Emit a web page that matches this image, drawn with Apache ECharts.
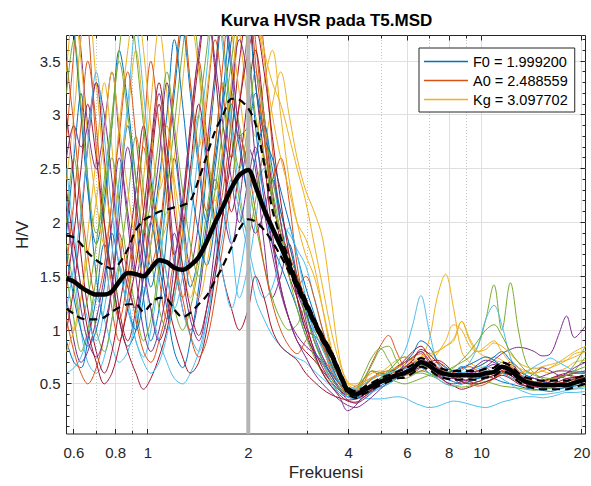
<!DOCTYPE html>
<html>
<head>
<meta charset="utf-8">
<script src="https://cdn.jsdelivr.net/npm/echarts@6/dist/echarts.min.js"></script>
<style>
  html, body { margin: 0; padding: 0; background: #ffffff; }
  #chart { width: 591px; height: 486px; }
</style>
</head>
<body>
<div id="chart"></div>
<script>
// Frequency samples (Hz) shared by every H/V curve
const freq = [0.57, 0.6, 0.63, 0.66, 0.7, 0.74, 0.78, 0.82, 0.87, 0.92, 0.97, 1.02, 1.08, 1.14, 1.2, 1.27, 1.34, 1.42, 1.5, 1.59, 1.68, 1.78, 1.88, 1.9992,
  2.1, 2.23, 2.36, 2.5, 2.65, 2.8, 2.97, 3.15, 3.34, 3.54, 3.75, 3.97,
  4.2, 4.45, 4.7, 4.97, 5.26, 5.56, 5.88, 6.22, 6.58, 6.96, 7.36, 7.8, 8.25, 8.72, 9.22, 9.75, 10.3, 10.9, 11.5, 12.2, 12.9, 13.6, 14.4, 15.2, 16.1, 17.0, 18.0, 19.0, 20.5];

// Average H/V curve and its +/- standard deviation bounds
const meanHV = [1.48, 1.45, 1.40, 1.36, 1.33, 1.33, 1.36, 1.45, 1.53, 1.52, 1.50, 1.57, 1.65, 1.63, 1.58, 1.56, 1.6, 1.68, 1.82, 2.0, 2.15, 2.32, 2.44, 2.488559,
  2.34, 2.12, 1.95, 1.78, 1.6, 1.42, 1.25, 1.08, 0.92, 0.78, 0.6, 0.44,
  0.4, 0.44, 0.48, 0.52, 0.55, 0.58, 0.6, 0.64, 0.70, 0.67, 0.62, 0.59, 0.58, 0.58, 0.58, 0.58, 0.6, 0.61, 0.66, 0.63, 0.56, 0.52, 0.5, 0.49, 0.49, 0.49, 0.49, 0.51, 0.54];
const upperHV = [1.88, 1.86, 1.8, 1.72, 1.65, 1.6, 1.57, 1.62, 1.75, 1.93, 2.02, 2.06, 2.1, 2.12, 2.14, 2.16, 2.2, 2.4, 2.62, 2.85, 3.0, 3.15, 3.14, 3.06,
  2.92, 2.55, 2.12, 1.86, 1.66, 1.46, 1.29, 1.11, 0.95, 0.81, 0.63, 0.47,
  0.43, 0.47, 0.51, 0.55, 0.58, 0.61, 0.64, 0.68, 0.74, 0.71, 0.66, 0.63, 0.62, 0.62, 0.62, 0.62, 0.64, 0.65, 0.7, 0.67, 0.6, 0.56, 0.54, 0.53, 0.53, 0.53, 0.53, 0.55, 0.58];
const lowerHV = [1.2, 1.15, 1.11, 1.1, 1.1, 1.12, 1.17, 1.21, 1.24, 1.24, 1.17, 1.24, 1.3, 1.29, 1.19, 1.12, 1.16, 1.24, 1.32, 1.46, 1.6, 1.77, 1.94, 2.03,
  2.01, 1.93, 1.82, 1.69, 1.54, 1.38, 1.21, 1.05, 0.89, 0.75, 0.57, 0.41,
  0.37, 0.41, 0.45, 0.49, 0.52, 0.55, 0.56, 0.6, 0.66, 0.63, 0.58, 0.55, 0.54, 0.54, 0.54, 0.54, 0.56, 0.57, 0.62, 0.59, 0.52, 0.48, 0.46, 0.45, 0.45, 0.45, 0.45, 0.47, 0.5];

// H/V ratio of each individual time window
const w01 = [1.9, 2.6, 3.2, 2.4, 1.5, 1.1, 1.4, 2.2, 2.9, 2.1, 1.3, 0.9, 1.2, 1.9, 2.6, 2.0, 1.4, 1.7, 2.5, 3.3, 3.9, 3.4, 2.8, 2.9,
  3.2, 2.8, 2.2, 1.9, 1.7, 1.3, 1.0, 0.95, 0.85, 0.7, 0.55, 0.42,
  0.4, 0.45, 0.5, 0.47, 0.5, 0.55, 0.6, 0.66, 0.72, 0.65, 0.58, 0.55, 0.6, 0.66, 0.6, 0.55, 0.58, 0.62, 0.7, 0.64, 0.55, 0.5, 0.48, 0.45, 0.46, 0.48, 0.5, 0.52, 0.55];
const w02 = [2.8, 3.6, 4.5, 3.9, 2.7, 1.8, 1.2, 0.9, 1.3, 2.0, 2.7, 2.2, 1.5, 1.1, 1.4, 2.1, 2.9, 3.5, 2.8, 2.0, 2.3, 3.0, 3.9, 4.3,
  3.7, 2.9, 2.4, 2.6, 2.2, 1.6, 1.2, 0.9, 0.75, 0.62, 0.5, 0.45,
  0.43, 0.52, 0.62, 0.58, 0.6, 0.66, 0.7, 0.74, 0.8, 0.7, 0.6, 0.58, 0.62, 0.6, 0.56, 0.6, 0.65, 0.6, 0.62, 0.68, 0.6, 0.52, 0.5, 0.52, 0.55, 0.52, 0.5, 0.53, 0.56];
const w03 = [1.2, 1.0, 1.3, 1.9, 2.6, 3.3, 2.7, 1.9, 1.4, 1.7, 2.4, 3.1, 3.8, 3.2, 2.3, 1.6, 1.3, 1.8, 2.6, 3.4, 4.2, 4.6, 3.8, 3.1,
  2.8, 3.3, 3.6, 3.0, 2.4, 2.0, 1.7, 1.5, 1.2, 0.85, 0.6, 0.5,
  0.5, 0.55, 0.6, 0.62, 0.58, 0.6, 0.65, 0.7, 0.75, 0.9, 1.3, 1.52, 1.2, 0.8, 0.7, 0.66, 0.7, 0.75, 0.72, 0.65, 0.6, 0.62, 0.65, 0.62, 0.6, 0.62, 0.65, 0.7, 0.72];
const w04 = [3.8, 4.2, 3.6, 2.9, 2.5, 2.9, 3.4, 2.8, 2.0, 1.5, 1.9, 2.6, 3.2, 2.5, 1.7, 1.2, 1.0, 1.3, 1.9, 2.4, 2.1, 1.8, 2.2, 2.7,
  2.5, 1.8, 1.3, 1.5, 1.8, 1.5, 1.1, 0.8, 0.6, 0.48, 0.38, 0.25,
  0.3, 0.4, 0.45, 0.52, 0.58, 0.62, 0.66, 0.7, 0.66, 0.6, 0.57, 0.6, 0.62, 0.6, 0.58, 0.62, 0.66, 0.72, 0.78, 0.82, 0.84, 0.83, 0.8, 0.76, 0.78, 0.95, 1.13, 0.93, 1.04];
const w05 = [1.5, 1.1, 0.8, 1.0, 1.5, 2.1, 2.6, 2.2, 1.6, 1.2, 0.9, 1.1, 1.6, 2.3, 2.9, 3.6, 4.1, 3.5, 2.7, 2.3, 2.7, 3.2, 2.9, 2.4,
  2.0, 1.6, 1.3, 1.1, 1.0, 1.05, 1.2, 1.1, 0.9, 0.7, 0.5, 0.42,
  0.45, 0.55, 0.62, 0.6, 0.55, 0.52, 0.5, 0.52, 0.55, 0.58, 0.6, 0.62, 0.66, 0.7, 0.75, 0.85, 1.1, 1.42, 1.0, 1.44, 1.0, 0.7, 0.6, 0.55, 0.5, 0.48, 0.47, 0.46, 0.48];
const w06 = [2.2, 1.6, 1.0, 0.7, 0.6, 0.75, 1.1, 1.6, 1.3, 0.9, 0.75, 1.0, 1.5, 2.1, 1.7, 1.2, 0.95, 0.8, 1.1, 1.6, 2.2, 1.8, 1.3, 1.6,
  2.0, 2.5, 2.4, 2.0, 1.9, 1.75, 1.6, 1.3, 1.0, 0.75, 0.55, 0.45,
  0.42, 0.45, 0.5, 0.55, 0.62, 0.7, 0.8, 1.05, 1.32, 1.0, 0.7, 0.6, 0.58, 0.62, 0.7, 0.85, 1.1, 1.23, 1.05, 0.75, 0.6, 0.55, 0.5, 0.48, 0.46, 0.45, 0.47, 0.48, 0.5];
const w07 = [1.0, 1.4, 2.0, 2.7, 3.3, 2.6, 1.8, 1.2, 0.9, 1.2, 1.8, 2.5, 3.1, 2.4, 1.7, 2.1, 2.8, 3.5, 4.0, 3.4, 2.6, 2.1, 2.5, 3.2,
  3.6, 3.0, 2.3, 1.8, 1.5, 1.3, 1.05, 0.82, 0.65, 0.52, 0.42, 0.38,
  0.4, 0.45, 0.5, 0.55, 0.6, 0.65, 0.72, 0.8, 0.85, 0.75, 0.65, 0.6, 0.55, 0.5, 0.55, 0.58, 0.6, 0.6, 0.65, 0.7, 0.62, 0.58, 0.55, 0.53, 0.55, 0.58, 0.6, 0.62, 0.6];
const w08 = [0.9, 0.7, 0.65, 0.9, 1.3, 1.8, 1.5, 1.1, 0.85, 1.0, 1.5, 2.0, 1.6, 1.2, 0.8, 0.65, 0.9, 1.4, 2.0, 2.6, 3.1, 3.7, 4.1, 3.6,
  2.9, 2.2, 1.8, 1.6, 1.4, 1.2, 0.95, 0.8, 0.7, 0.58, 0.47, 0.4,
  0.38, 0.4, 0.43, 0.48, 0.52, 0.55, 0.6, 0.64, 0.7, 0.66, 0.6, 0.55, 0.52, 0.5, 0.52, 0.55, 0.58, 0.55, 0.52, 0.5, 0.48, 0.46, 0.45, 0.44, 0.43, 0.45, 0.47, 0.48, 0.5];
const w09 = [1.6, 2.2, 2.9, 3.5, 2.9, 2.0, 1.4, 1.1, 1.5, 2.1, 2.8, 3.5, 2.9, 2.2, 1.6, 1.3, 1.7, 2.4, 3.1, 3.7, 3.2, 2.6, 3.1, 3.8,
  4.2, 3.6, 2.7, 2.0, 1.6, 1.4, 1.5, 1.3, 1.0, 0.75, 0.55, 0.45,
  0.44, 0.55, 0.7, 0.85, 0.95, 0.8, 0.65, 0.6, 0.62, 0.65, 0.7, 0.66, 0.6, 0.58, 0.6, 0.62, 0.58, 0.55, 0.6, 0.65, 0.6, 0.55, 0.52, 0.5, 0.52, 0.55, 0.58, 0.6, 0.62];
const w10 = [2.4, 3.0, 3.7, 4.0, 3.3, 2.5, 2.0, 2.4, 3.0, 3.6, 3.0, 2.3, 1.8, 2.0, 2.6, 3.3, 3.9, 3.4, 2.7, 2.2, 2.6, 3.3, 3.9, 4.4,
  4.0, 3.5, 3.0, 2.6, 2.3, 2.0, 1.85, 1.6, 1.2, 0.8, 0.55, 0.45,
  0.45, 0.5, 0.55, 0.6, 0.66, 0.72, 0.75, 0.7, 0.66, 0.7, 0.78, 0.9, 1.05, 1.0, 0.85, 0.8, 0.82, 0.88, 0.85, 0.78, 0.7, 0.66, 0.64, 0.66, 0.68, 0.7, 0.72, 0.75, 0.8];
const w11 = [1.3, 0.9, 0.7, 0.8, 1.1, 1.5, 2.0, 2.6, 2.1, 1.5, 1.0, 0.8, 1.0, 1.4, 1.9, 1.5, 1.1, 0.9, 1.2, 1.8, 2.5, 3.2, 3.7, 3.3,
  2.6, 2.1, 1.7, 1.35, 1.1, 0.95, 0.85, 0.78, 0.68, 0.55, 0.45, 0.38,
  0.36, 0.4, 0.45, 0.5, 0.55, 0.6, 0.64, 0.68, 0.72, 0.7, 0.65, 0.6, 0.58, 0.57, 0.6, 0.62, 0.65, 0.68, 0.62, 0.58, 0.55, 0.55, 0.6, 0.65, 0.62, 0.58, 0.55, 0.56, 0.58];
const w12 = [2.0, 2.6, 2.1, 1.5, 1.0, 0.8, 1.1, 1.6, 2.2, 2.8, 2.3, 1.7, 1.2, 1.0, 1.3, 1.8, 2.4, 3.0, 3.6, 4.2, 3.7, 3.0, 2.5, 2.9,
  3.4, 3.0, 2.4, 2.1, 1.8, 1.5, 1.25, 1.0, 0.82, 0.65, 0.5, 0.42,
  0.45, 0.6, 0.75, 0.83, 0.72, 0.6, 0.55, 0.58, 0.62, 0.6, 0.56, 0.55, 0.58, 0.6, 0.56, 0.52, 0.55, 0.58, 0.6, 0.62, 0.58, 0.55, 0.52, 0.5, 0.52, 0.55, 0.6, 0.68, 0.85];
const w13 = [0.6, 0.65, 0.75, 0.95, 1.3, 1.1, 0.85, 0.7, 0.8, 1.1, 1.4, 1.2, 0.9, 0.7, 0.55, 0.5, 0.6, 0.8, 1.1, 1.5, 1.9, 2.4, 2.1, 1.7,
  1.3, 1.1, 0.95, 0.85, 0.78, 0.74, 0.7, 0.62, 0.55, 0.48, 0.42, 0.38,
  0.38, 0.37, 0.36, 0.36, 0.37, 0.38, 0.37, 0.33, 0.3, 0.28, 0.29, 0.32, 0.34, 0.33, 0.31, 0.29, 0.28, 0.3, 0.33, 0.35, 0.37, 0.38, 0.38, 0.37, 0.38, 0.4, 0.42, 0.42, 0.43];
const w14 = [3.0, 2.4, 1.7, 1.2, 0.8, 0.6, 0.8, 1.2, 1.7, 2.3, 2.9, 2.4, 1.8, 1.3, 1.0, 0.75, 0.6, 0.7, 1.0, 1.5, 2.1, 2.8, 3.5, 4.0,
  3.3, 2.6, 1.9, 1.4, 1.1, 0.9, 0.8, 0.72, 0.62, 0.52, 0.44, 0.4,
  0.42, 0.48, 0.55, 0.6, 0.58, 0.55, 0.58, 0.65, 0.7, 0.68, 0.6, 0.52, 0.48, 0.45, 0.47, 0.5, 0.52, 0.55, 0.6, 0.58, 0.52, 0.48, 0.47, 0.48, 0.5, 0.52, 0.55, 0.56, 0.58];
const w15 = [4.4, 3.8, 3.0, 2.3, 1.8, 2.2, 2.9, 3.6, 3.1, 2.4, 1.8, 1.4, 1.8, 2.5, 3.2, 3.8, 3.2, 2.5, 2.0, 2.5, 3.2, 4.0, 4.5, 4.0,
  3.3, 2.8, 2.6, 2.3, 2.0, 1.7, 1.4, 1.15, 0.9, 0.68, 0.52, 0.44,
  0.42, 0.46, 0.5, 0.55, 0.6, 0.64, 0.7, 0.78, 0.9, 0.85, 0.72, 0.65, 0.62, 0.6, 0.63, 0.66, 0.7, 0.75, 0.8, 0.72, 0.65, 0.58, 0.55, 0.52, 0.5, 0.5, 0.52, 0.55, 0.58];
const w16 = [1.1, 0.8, 0.6, 0.5, 0.65, 0.95, 1.4, 1.9, 1.5, 1.1, 0.8, 0.7, 0.9, 1.2, 1.6, 1.3, 0.95, 0.75, 0.9, 1.3, 1.8, 2.3, 2.8, 2.5,
  2.1, 1.6, 1.25, 1.0, 0.85, 0.78, 0.9, 1.0, 0.85, 0.62, 0.5, 0.45,
  0.48, 0.52, 0.56, 0.6, 0.62, 0.6, 0.58, 0.6, 0.65, 0.7, 0.66, 0.6, 0.55, 0.52, 0.5, 0.48, 0.5, 0.55, 0.6, 0.56, 0.52, 0.5, 0.48, 0.47, 0.48, 0.5, 0.52, 0.55, 0.58];
const w17 = [3.4, 4.0, 3.5, 2.8, 2.2, 1.8, 2.2, 2.9, 3.6, 4.1, 3.6, 2.9, 2.3, 2.6, 3.3, 3.9, 3.3, 2.7, 3.2, 3.9, 4.4, 3.8, 3.2, 2.6,
  2.4, 2.7, 3.1, 3.4, 3.0, 2.6, 2.3, 2.1, 1.85, 1.3, 0.75, 0.5,
  0.46, 0.5, 0.54, 0.58, 0.6, 0.62, 0.65, 0.68, 0.72, 0.75, 0.8, 0.85, 0.9, 1.08, 0.92, 0.8, 0.75, 0.72, 0.7, 0.68, 0.62, 0.6, 0.6, 0.62, 0.65, 0.7, 0.75, 0.8, 0.85];
const w18 = [2.6, 2.9, 2.7, 2.9, 3.3, 3.0, 2.4, 1.8, 1.4, 1.2, 1.5, 2.0, 2.6, 3.3, 2.8, 2.1, 1.6, 2.0, 2.7, 3.4, 4.0, 3.5, 2.8, 2.2,
  1.9, 2.1, 2.4, 2.0, 1.6, 1.35, 1.15, 0.95, 0.75, 0.58, 0.45, 0.35,
  0.32, 0.36, 0.42, 0.5, 0.55, 0.6, 0.68, 0.75, 0.8, 0.72, 0.62, 0.56, 0.55, 0.58, 0.62, 0.68, 0.72, 0.7, 0.66, 0.62, 0.58, 0.55, 0.55, 0.57, 0.6, 0.62, 0.62, 0.6, 0.6];
const w19 = [1.8, 1.4, 1.1, 1.3, 1.8, 2.4, 3.0, 3.6, 4.2, 3.6, 2.9, 2.3, 1.9, 1.5, 1.2, 1.0, 1.2, 1.6, 2.1, 2.7, 3.3, 2.8, 2.2, 1.9,
  2.2, 2.6, 2.3, 1.9, 1.5, 1.2, 0.95, 0.75, 0.6, 0.5, 0.45, 0.43,
  0.45, 0.55, 0.68, 0.82, 0.85, 0.72, 0.62, 0.6, 0.6, 0.58, 0.55, 0.5, 0.48, 0.47, 0.48, 0.5, 0.52, 0.5, 0.48, 0.47, 0.46, 0.45, 0.44, 0.45, 0.46, 0.48, 0.52, 0.62, 0.75];
const w20 = [2.5, 1.9, 1.4, 1.1, 0.9, 1.2, 1.7, 2.4, 3.1, 3.8, 3.2, 2.5, 1.9, 1.5, 1.2, 1.5, 2.0, 2.7, 3.4, 4.1, 3.6, 2.9, 2.3, 1.8,
  1.5, 1.3, 1.4, 1.7, 1.95, 1.7, 1.3, 0.95, 0.7, 0.52, 0.42, 0.38,
  0.36, 0.38, 0.42, 0.46, 0.5, 0.55, 0.6, 0.62, 0.65, 0.6, 0.55, 0.5, 0.48, 0.5, 0.55, 0.6, 0.62, 0.6, 0.55, 0.5, 0.45, 0.42, 0.4, 0.4, 0.41, 0.42, 0.44, 0.45, 0.46];
const w21 = [1.4, 1.9, 2.5, 3.1, 2.6, 2.0, 1.5, 1.1, 0.8, 0.6, 0.45, 0.55, 0.75, 1.0, 1.4, 1.9, 2.5, 3.1, 2.6, 2.0, 1.5, 1.2, 1.0, 1.2,
  1.5, 1.3, 1.0, 0.85, 0.78, 0.72, 0.6, 0.52, 0.45, 0.4, 0.37, 0.35,
  0.36, 0.4, 0.45, 0.5, 0.55, 0.58, 0.6, 0.62, 0.66, 0.7, 0.72, 0.68, 0.6, 0.55, 0.52, 0.5, 0.52, 0.55, 0.58, 0.55, 0.5, 0.48, 0.5, 0.52, 0.55, 0.57, 0.58, 0.57, 0.56];
const w22 = [1.7, 1.3, 1.0, 0.85, 1.0, 1.4, 1.9, 1.6, 1.2, 1.0, 1.3, 1.8, 2.4, 3.0, 3.7, 3.1, 2.4, 1.9, 1.6, 2.0, 2.6, 3.1, 2.7, 2.3,
  2.6, 2.9, 2.5, 2.1, 1.8, 1.5, 1.2, 0.9, 0.72, 0.6, 0.5, 0.45,
  0.43, 0.45, 0.48, 0.52, 0.55, 0.58, 0.62, 0.66, 0.7, 0.68, 0.62, 0.6, 0.62, 0.65, 0.68, 0.72, 0.75, 0.72, 0.66, 0.6, 0.55, 0.52, 0.5, 0.5, 0.52, 0.55, 0.58, 0.6, 0.62];
const w23 = [3.5, 2.9, 2.2, 1.7, 1.3, 1.6, 2.2, 2.8, 3.4, 2.8, 2.1, 1.6, 1.9, 2.6, 3.3, 3.9, 3.3, 2.6, 2.1, 2.7, 3.5, 4.3, 4.8, 4.3,
  3.5, 2.8, 2.2, 1.9, 1.7, 1.5, 1.3, 1.1, 0.88, 0.66, 0.5, 0.42,
  0.42, 0.48, 0.55, 0.6, 0.62, 0.65, 0.7, 0.75, 0.78, 0.7, 0.62, 0.58, 0.6, 0.64, 0.66, 0.62, 0.58, 0.6, 0.64, 0.66, 0.6, 0.55, 0.52, 0.52, 0.54, 0.56, 0.58, 0.6, 0.6];
const w24 = [0.8, 1.0, 1.3, 1.7, 2.2, 2.8, 3.4, 2.9, 2.3, 1.8, 1.5, 1.8, 2.3, 2.9, 2.4, 1.9, 1.5, 1.3, 1.6, 2.1, 2.7, 3.3, 3.9, 4.3,
  4.0, 3.6, 3.3, 3.1, 2.8, 2.5, 2.2, 1.8, 1.4, 1.0, 0.7, 0.52,
  0.48, 0.52, 0.56, 0.6, 0.62, 0.65, 0.68, 0.72, 0.75, 0.78, 0.8, 0.85, 0.92, 1.08, 0.9, 0.8, 0.85, 0.9, 0.8, 0.7, 0.65, 0.62, 0.6, 0.62, 0.65, 0.68, 0.72, 0.78, 0.8];
const w25 = [2.1, 1.6, 1.2, 0.9, 0.75, 0.95, 1.4, 2.0, 2.7, 2.2, 1.6, 1.2, 0.9, 1.1, 1.6, 2.2, 2.9, 3.6, 4.0, 3.5, 2.9, 2.4, 2.0, 2.4,
  2.7, 2.3, 1.8, 1.4, 1.1, 0.9, 0.75, 0.6, 0.5, 0.42, 0.35, 0.3,
  0.28, 0.32, 0.38, 0.45, 0.52, 0.58, 0.62, 0.66, 0.7, 0.65, 0.58, 0.52, 0.5, 0.52, 0.55, 0.58, 0.6, 0.62, 0.65, 0.6, 0.55, 0.5, 0.48, 0.5, 0.52, 0.55, 0.6, 0.65, 0.7];
const w26 = [3.2, 3.7, 3.1, 2.4, 1.9, 2.3, 2.9, 3.5, 3.0, 2.4, 1.9, 2.2, 2.8, 3.4, 2.9, 2.3, 1.8, 1.5, 1.8, 2.3, 2.9, 3.5, 4.0, 3.6,
  3.0, 2.6, 2.2, 1.9, 1.65, 1.4, 1.15, 0.9, 0.7, 0.55, 0.46, 0.4,
  0.4, 0.43, 0.48, 0.55, 0.62, 0.7, 0.75, 0.72, 0.68, 0.65, 0.62, 0.6, 0.65, 0.72, 0.8, 0.9, 1.0, 1.05, 0.95, 0.8, 0.7, 0.62, 0.58, 0.56, 0.55, 0.56, 0.58, 0.62, 0.66];
const w27 = [1.2, 1.6, 2.1, 2.7, 3.4, 2.8, 2.1, 1.6, 1.2, 0.9, 0.7, 0.6, 0.7, 0.95, 1.3, 1.8, 2.4, 3.0, 2.5, 1.9, 1.5, 1.2, 1.5, 2.0,
  2.3, 2.1, 1.9, 1.75, 1.6, 1.4, 1.2, 1.0, 0.82, 0.65, 0.52, 0.46,
  0.46, 0.5, 0.55, 0.58, 0.6, 0.62, 0.64, 0.66, 0.68, 0.66, 0.62, 0.6, 0.58, 0.6, 0.62, 0.64, 0.66, 0.64, 0.6, 0.56, 0.54, 0.6, 0.66, 0.7, 0.74, 0.7, 0.66, 0.62, 0.6];
const w28 = [2.3, 1.8, 1.4, 1.0, 0.7, 0.5, 0.6, 0.85, 1.2, 1.6, 2.1, 2.7, 3.3, 2.7, 2.1, 1.6, 1.2, 0.95, 1.2, 1.6, 2.1, 2.6, 3.1, 3.6,
  3.8, 3.4, 2.8, 2.2, 1.7, 1.3, 1.0, 0.78, 0.6, 0.48, 0.4, 0.34,
  0.33, 0.38, 0.44, 0.5, 0.55, 0.6, 0.65, 0.72, 0.82, 0.78, 0.7, 0.62, 0.56, 0.52, 0.5, 0.52, 0.55, 0.58, 0.62, 0.6, 0.55, 0.5, 0.48, 0.47, 0.48, 0.5, 0.52, 0.54, 0.55];

const windowCurves = [w01, w02, w03, w04, w05, w06, w07, w08, w09, w10, w11, w12, w13, w14,
  w15, w16, w17, w18, w19, w20, w21, w22, w23, w24, w25, w26, w27, w28];

// Peak parameters shown in the legend
const legendLabels = ['F0 = 1.999200', 'A0 = 2.488559', 'Kg = 3.097702'];
// Narrow band marking the peak frequency F0
const f0Band = [1.972, 2.027];

// Tick positions and their labels
const xMajorTicks = [0.6, 0.8, 1, 2, 4, 6, 8, 10, 20];
const xTickLabels = ['0.6', '0.8', '1', '2', '4', '6', '8', '10', '20'];
const xMinorTicks = [0.7, 0.9, 3, 5, 7, 9];
const yMajorTicks = [0.5, 1, 1.5, 2, 2.5, 3, 3.5];
const yTickLabels = ['0.5', '1', '1.5', '2', '2.5', '3', '3.5'];
const yMinorTicks = [0.1, 0.2, 0.3, 0.4, 0.6, 0.7, 0.8, 0.9, 1.1, 1.2, 1.3, 1.4, 1.6, 1.7, 1.8, 1.9,
  2.1, 2.2, 2.3, 2.4, 2.6, 2.7, 2.8, 2.9, 3.1, 3.2, 3.3, 3.4, 3.6, 3.7];

const xMin = 0.57, xMax = 20.5, yMin = 0.034, yMax = 3.738;

const palette = ['#0072BD', '#D95319', '#EDB120', '#7E2F8E', '#77AC30', '#4DBEEE', '#A2142F'];
const fontFamily = "'Liberation Sans', Arial, Helvetica, sans-serif";
const axisInk = '#262626';
const tickFont = "15px 'Liberation Sans', Arial, Helvetica, sans-serif";

const crisp = v => Math.round(v - 0.5) + 0.5;
const toPairs = values => freq.map((f, i) => [f, values[i]]);

const series = [];

// Vertical grid lines, x ticks and x tick labels
series.push({
  type: 'custom', silent: true, z: 1, clip: false,
  data: xMajorTicks.map(v => [v, yMin]),
  renderItem: (params, api) => {
    const v = api.value(0);
    const b = api.coord([v, yMin]);
    const t = api.coord([v, yMax]);
    const x = crisp(b[0]);
    return { type: 'group', children: [
      { type: 'line', shape: { x1: x, y1: b[1], x2: x, y2: t[1] }, style: { stroke: '#dfdfdf', lineWidth: 1 } },
      { type: 'line', shape: { x1: x, y1: b[1], x2: x, y2: b[1] - 5 }, style: { stroke: axisInk, lineWidth: 1 } },
      { type: 'line', shape: { x1: x, y1: t[1], x2: x, y2: t[1] + 5 }, style: { stroke: axisInk, lineWidth: 1 } },
      { type: 'text', x: b[0], y: b[1] + 18, style: { text: xTickLabels[params.dataIndex], align: 'center', verticalAlign: 'middle', font: tickFont, fill: axisInk } }
    ] };
  }
});
// Dotted minor grid lines and minor x ticks
series.push({
  type: 'custom', silent: true, z: 1, clip: false,
  data: xMinorTicks.map(v => [v, yMin]),
  renderItem: (params, api) => {
    const v = api.value(0);
    const b = api.coord([v, yMin]);
    const t = api.coord([v, yMax]);
    const x = crisp(b[0]);
    return { type: 'group', children: [
      { type: 'line', shape: { x1: x, y1: b[1], x2: x, y2: t[1] }, style: { stroke: '#c4c4c4', lineWidth: 1, lineDash: [1, 2] } },
      { type: 'line', shape: { x1: x, y1: b[1], x2: x, y2: b[1] - 3 }, style: { stroke: axisInk, lineWidth: 1 } },
      { type: 'line', shape: { x1: x, y1: t[1], x2: x, y2: t[1] + 3 }, style: { stroke: axisInk, lineWidth: 1 } }
    ] };
  }
});
// Horizontal grid lines, y ticks and y tick labels
series.push({
  type: 'custom', silent: true, z: 1, clip: false,
  data: yMajorTicks.map(v => [xMin, v]),
  renderItem: (params, api) => {
    const v = api.value(1);
    const l = api.coord([xMin, v]);
    const r = api.coord([xMax, v]);
    const y = crisp(l[1]);
    return { type: 'group', children: [
      { type: 'line', shape: { x1: l[0], y1: y, x2: r[0], y2: y }, style: { stroke: '#dfdfdf', lineWidth: 1 } },
      { type: 'line', shape: { x1: l[0], y1: y, x2: l[0] + 5, y2: y }, style: { stroke: axisInk, lineWidth: 1 } },
      { type: 'line', shape: { x1: r[0], y1: y, x2: r[0] - 5, y2: y }, style: { stroke: axisInk, lineWidth: 1 } },
      { type: 'text', x: l[0] - 6, y: l[1], style: { text: yTickLabels[params.dataIndex], align: 'right', verticalAlign: 'middle', font: tickFont, fill: axisInk } }
    ] };
  }
});
// Minor y ticks on both sides
series.push({
  type: 'custom', silent: true, z: 1, clip: false,
  data: yMinorTicks.map(v => [xMin, v]),
  renderItem: (params, api) => {
    const v = api.value(1);
    const l = api.coord([xMin, v]);
    const r = api.coord([xMax, v]);
    const y = crisp(l[1]);
    return { type: 'group', children: [
      { type: 'line', shape: { x1: l[0], y1: y, x2: l[0] + 3, y2: y }, style: { stroke: axisInk, lineWidth: 1 } },
      { type: 'line', shape: { x1: r[0], y1: y, x2: r[0] - 3, y2: y }, style: { stroke: axisInk, lineWidth: 1 } }
    ] };
  }
});

// One thin line per time window, in the default colour order
windowCurves.forEach((w, i) => {
  const color = palette[i % palette.length];
  series.push({
    name: i < legendLabels.length ? legendLabels[i] : 'window ' + (i + 1),
    type: 'line', data: toPairs(w), showSymbol: false, symbol: 'none',
    smooth: 0.35, silent: true, z: 2,
    lineStyle: { width: 1, color: color }, itemStyle: { color: color }
  });
});

// F0 band
series.push({
  type: 'custom', silent: true, z: 3,
  data: [[f0Band[0], f0Band[1]]],
  renderItem: (params, api) => {
    const a = api.coord([api.value(0), yMax]);
    const b = api.coord([api.value(1), yMin]);
    return { type: 'rect', shape: { x: a[0], y: a[1], width: b[0] - a[0], height: b[1] - a[1] }, style: { fill: '#b4b4b4' } };
  }
});

// Standard deviation bounds (dashed) and the average curve (thick)
[upperHV, lowerHV].forEach(v => {
  series.push({
    type: 'line', data: toPairs(v), showSymbol: false, symbol: 'none', smooth: 0.3, silent: true, z: 4,
    lineStyle: { width: 2.2, color: '#000', type: [8, 5] }
  });
});
series.push({
  type: 'line', data: toPairs(meanHV), showSymbol: false, symbol: 'none', smooth: 0.3, silent: true, z: 5,
  lineStyle: { width: 4.5, color: '#000' }
});

const chart = echarts.init(document.getElementById('chart'), null, { renderer: 'svg' });
chart.setOption({
  animation: false,
  backgroundColor: '#ffffff',
  title: {
    text: 'Kurva HVSR pada T5.MSD',
    left: 326.5, top: 12, textAlign: 'center', padding: 0,
    textStyle: { fontSize: 17, fontWeight: 'bold', color: '#000', fontFamily: fontFamily }
  },
  legend: {
    data: legendLabels,
    orient: 'vertical', left: 419, top: 48,
    padding: [6, 7, 5, 5], itemGap: 4, itemWidth: 44, itemHeight: 14,
    icon: 'path://M0,0H46V1.5H0Z',
    itemStyle: { borderWidth: 0 },
    textStyle: { fontSize: 14.5, lineHeight: 14, color: '#000', fontFamily: fontFamily },
    backgroundColor: '#ffffff', borderColor: axisInk, borderWidth: 1, borderRadius: 0,
    selectedMode: false, z: 10
  },
  grid: {
    show: true, left: 66.5, right: 5.5, top: 35.5, bottom: 50.5,
    borderColor: axisInk, borderWidth: 1, backgroundColor: 'transparent'
  },
  xAxis: {
    type: 'log', logBase: 10, min: xMin, max: xMax,
    name: 'Frekuensi', nameLocation: 'middle', nameGap: 30,
    nameTextStyle: { fontSize: 17, color: axisInk, fontFamily: fontFamily },
    axisLine: { show: false }, axisTick: { show: false }, axisLabel: { show: false },
    splitLine: { show: false }, minorTick: { show: false }, minorSplitLine: { show: false }
  },
  yAxis: {
    type: 'value', min: yMin, max: yMax,
    name: 'H/V', nameLocation: 'middle', nameGap: 36,
    nameTextStyle: { fontSize: 17, color: axisInk, fontFamily: fontFamily },
    axisLine: { show: false }, axisTick: { show: false }, axisLabel: { show: false },
    splitLine: { show: false }
  },
  series: series
});
</script>
</body>
</html>
